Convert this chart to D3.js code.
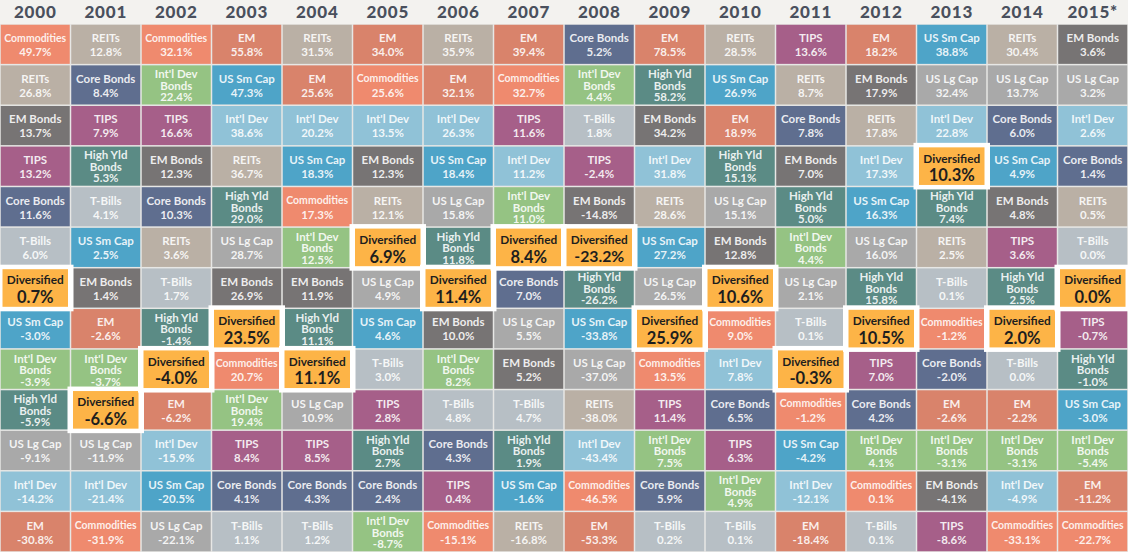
<!DOCTYPE html>
<html><head><meta charset="utf-8">
<script src="https://cdn.jsdelivr.net/npm/d3@7/dist/d3.min.js"></script>
<style>
html,body{margin:0;padding:0;background:#f3f2ef;}
svg{display:block;}
</style></head>
<body>
<svg id="chart" width="1128" height="552"></svg>
<script>
const years = ["2000","2001","2002","2003","2004","2005","2006","2007","2008","2009","2010","2011","2012","2013","2014","2015*"];
const categories = ["Commodities","REITs","EM","Core Bonds","Int'l Dev Bonds","US Sm Cap","Int'l Dev","TIPS","EM Bonds","High Yld Bonds","T-Bills","US Lg Cap","Diversified"];
const categoryColors = ["#ef8a6e","#bab0a5","#d9836b","#5f6e8f","#95c383","#4ea4c8","#90c2d7","#a65f89","#777474","#5b8b85","#b7bfc5","#a9a9a9","#fdb447"];

// ranked from best (top) to worst (bottom) per year
const names2000 = ["Commodities","REITs","EM Bonds","TIPS","Core Bonds","T-Bills","Diversified","US Sm Cap","Int'l Dev Bonds","High Yld Bonds","US Lg Cap","Int'l Dev","EM"];
const returns2000 = [49.7,26.8,13.7,13.2,11.6,6.0,0.7,-3.0,-3.9,-5.9,-9.1,-14.2,-30.8];
const names2001 = ["REITs","Core Bonds","TIPS","High Yld Bonds","T-Bills","US Sm Cap","EM Bonds","EM","Int'l Dev Bonds","Diversified","US Lg Cap","Int'l Dev","Commodities"];
const returns2001 = [12.8,8.4,7.9,5.3,4.1,2.5,1.4,-2.6,-3.7,-6.6,-11.9,-21.4,-31.9];
const names2002 = ["Commodities","Int'l Dev Bonds","TIPS","EM Bonds","Core Bonds","REITs","T-Bills","High Yld Bonds","Diversified","EM","Int'l Dev","US Sm Cap","US Lg Cap"];
const returns2002 = [32.1,22.4,16.6,12.3,10.3,3.6,1.7,-1.4,-4.0,-6.2,-15.9,-20.5,-22.1];
const names2003 = ["EM","US Sm Cap","Int'l Dev","REITs","High Yld Bonds","US Lg Cap","EM Bonds","Diversified","Commodities","Int'l Dev Bonds","TIPS","Core Bonds","T-Bills"];
const returns2003 = [55.8,47.3,38.6,36.7,29.0,28.7,26.9,23.5,20.7,19.4,8.4,4.1,1.1];
const names2004 = ["REITs","EM","Int'l Dev","US Sm Cap","Commodities","Int'l Dev Bonds","EM Bonds","High Yld Bonds","Diversified","US Lg Cap","TIPS","Core Bonds","T-Bills"];
const returns2004 = [31.5,25.6,20.2,18.3,17.3,12.5,11.9,11.1,11.1,10.9,8.5,4.3,1.2];
const names2005 = ["EM","Commodities","Int'l Dev","EM Bonds","REITs","Diversified","US Lg Cap","US Sm Cap","T-Bills","TIPS","High Yld Bonds","Core Bonds","Int'l Dev Bonds"];
const returns2005 = [34.0,25.6,13.5,12.3,12.1,6.9,4.9,4.6,3.0,2.8,2.7,2.4,-8.7];
const names2006 = ["REITs","EM","Int'l Dev","US Sm Cap","US Lg Cap","High Yld Bonds","Diversified","EM Bonds","Int'l Dev Bonds","T-Bills","Core Bonds","TIPS","Commodities"];
const returns2006 = [35.9,32.1,26.3,18.4,15.8,11.8,11.4,10.0,8.2,4.8,4.3,0.4,-15.1];
const names2007 = ["EM","Commodities","TIPS","Int'l Dev","Int'l Dev Bonds","Diversified","Core Bonds","US Lg Cap","EM Bonds","T-Bills","High Yld Bonds","US Sm Cap","REITs"];
const returns2007 = [39.4,32.7,11.6,11.2,11.0,8.4,7.0,5.5,5.2,4.7,1.9,-1.6,-16.8];
const names2008 = ["Core Bonds","Int'l Dev Bonds","T-Bills","TIPS","EM Bonds","Diversified","High Yld Bonds","US Sm Cap","US Lg Cap","REITs","Int'l Dev","Commodities","EM"];
const returns2008 = [5.2,4.4,1.8,-2.4,-14.8,-23.2,-26.2,-33.8,-37.0,-38.0,-43.4,-46.5,-53.3];
const names2009 = ["EM","High Yld Bonds","EM Bonds","Int'l Dev","REITs","US Sm Cap","US Lg Cap","Diversified","Commodities","TIPS","Int'l Dev Bonds","Core Bonds","T-Bills"];
const returns2009 = [78.5,58.2,34.2,31.8,28.6,27.2,26.5,25.9,13.5,11.4,7.5,5.9,0.2];
const names2010 = ["REITs","US Sm Cap","EM","High Yld Bonds","US Lg Cap","EM Bonds","Diversified","Commodities","Int'l Dev","Core Bonds","TIPS","Int'l Dev Bonds","T-Bills"];
const returns2010 = [28.5,26.9,18.9,15.1,15.1,12.8,10.6,9.0,7.8,6.5,6.3,4.9,0.1];
const names2011 = ["TIPS","REITs","Core Bonds","EM Bonds","High Yld Bonds","Int'l Dev Bonds","US Lg Cap","T-Bills","Diversified","Commodities","US Sm Cap","Int'l Dev","EM"];
const returns2011 = [13.6,8.7,7.8,7.0,5.0,4.4,2.1,0.1,-0.3,-1.2,-4.2,-12.1,-18.4];
const names2012 = ["EM","EM Bonds","REITs","Int'l Dev","US Sm Cap","US Lg Cap","High Yld Bonds","Diversified","TIPS","Core Bonds","Int'l Dev Bonds","Commodities","T-Bills"];
const returns2012 = [18.2,17.9,17.8,17.3,16.3,16.0,15.8,10.5,7.0,4.2,4.1,0.1,0.1];
const names2013 = ["US Sm Cap","US Lg Cap","Int'l Dev","Diversified","High Yld Bonds","REITs","T-Bills","Commodities","Core Bonds","EM","Int'l Dev Bonds","EM Bonds","TIPS"];
const returns2013 = [38.8,32.4,22.8,10.3,7.4,2.5,0.1,-1.2,-2.0,-2.6,-3.1,-4.1,-8.6];
const names2014 = ["REITs","US Lg Cap","Core Bonds","US Sm Cap","EM Bonds","TIPS","High Yld Bonds","Diversified","T-Bills","EM","Int'l Dev Bonds","Int'l Dev","Commodities"];
const returns2014 = [30.4,13.7,6.0,4.9,4.8,3.6,2.5,2.0,0.0,-2.2,-3.1,-4.9,-33.1];
const names2015 = ["EM Bonds","US Lg Cap","Int'l Dev","Core Bonds","REITs","T-Bills","Diversified","TIPS","High Yld Bonds","US Sm Cap","Int'l Dev Bonds","EM","Commodities"];
const returns2015 = [3.6,3.2,2.6,1.4,0.5,0.0,0.0,-0.7,-1.0,-3.0,-5.4,-11.2,-22.7];

const namesByYear = [names2000,names2001,names2002,names2003,names2004,names2005,names2006,names2007,names2008,names2009,names2010,names2011,names2012,names2013,names2014,names2015];
const returnsByYear = [returns2000,returns2001,returns2002,returns2003,returns2004,returns2005,returns2006,returns2007,returns2008,returns2009,returns2010,returns2011,returns2012,returns2013,returns2014,returns2015];

const W = 1128, H = 552, gridTop = 24;
const svg = d3.select("#chart");
const x = d3.scaleBand().domain(years).range([0, W]);
const y = d3.scaleBand().domain(d3.range(13)).range([gridTop, H]);
const color = d3.scaleOrdinal().domain(categories).range(categoryColors);
const fmt = v => v.toFixed(1) + "%";
const FONT = "Lato, 'Open Sans', sans-serif";

function fitSize(sel, maxW, baseSize) {
  sel.each(function(){
    const w = this.getBBox().width;
    if (w > maxW) d3.select(this).attr("font-size", (baseSize * maxW / w).toFixed(2) + "px");
  });
}

const cells = [];
years.forEach((yr, i) => {
  namesByYear[i].forEach((n, r) => cells.push({year: yr, rank: r, name: n, value: returnsByYear[i][r]}));
});

svg.append("rect").attr("x",0).attr("y",gridTop).attr("width",W).attr("height",H-gridTop).attr("fill","#e7e7e5");

// header
svg.append("g").selectAll("text").data(years).join("text")
  .attr("x", d => x(d) + x.bandwidth()/2)
  .attr("y", 18)
  .attr("text-anchor","middle")
  .attr("font-family",FONT)
  .attr("font-weight","900")
  .attr("font-size","17px")
  .attr("letter-spacing","0.8")
  .attr("fill","#4a505d")
  .text(d => d);

const regular = cells.filter(d => d.name !== "Diversified");
const divs = cells.filter(d => d.name === "Diversified");

const cg = svg.append("g").selectAll("g.cell").data(regular).join("g").attr("class","cell")
  .attr("transform", d => `translate(${x(d.year)},${y(d.rank)})`);
cg.append("rect")
  .attr("x",0.75).attr("y",0.75)
  .attr("width", x.bandwidth()-1.5).attr("height", y.bandwidth()-1.5)
  .attr("fill", d => color(d.name));
cg.each(function(d){
  const sel = d3.select(this);
  const bw = x.bandwidth();
  let lines;
  if (d.name === "High Yld Bonds") lines = ["High Yld","Bonds",fmt(d.value)];
  else if (d.name === "Int'l Dev Bonds") lines = ["Int'l Dev","Bonds",fmt(d.value)];
  else lines = [d.name, fmt(d.value)];
  const offs = lines.length === 3 ? [9.5, 21, 32.5] : [14, 28];
  lines.forEach((t, k) => {
    const tx = sel.append("text")
      .attr("x", bw/2).attr("y", offs[k])
      .attr("dy","0.36em")
      .attr("text-anchor","middle")
      .attr("font-family",FONT)
      .attr("font-weight","700")
      .attr("font-size","11.5px")
      .attr("fill","rgba(255,255,255,0.88)")
      .text(t);
    fitSize(tx, 62, 11.5);
  });
});

const dg = svg.append("g").selectAll("g.div").data(divs).join("g").attr("class","div")
  .attr("transform", d => `translate(${x(d.year)},${y(d.rank)})`);
dg.append("rect")
  .attr("x",-3).attr("y",-3)
  .attr("width", x.bandwidth()+6).attr("height", y.bandwidth()+6)
  .attr("fill","#ffffff");
dg.append("rect")
  .attr("x",2.5).attr("y",1.5)
  .attr("width", x.bandwidth()-5).attr("height", y.bandwidth()-3)
  .attr("fill", d => color(d.name));
const dn = dg.append("text")
  .attr("x", x.bandwidth()/2).attr("y", 12.5).attr("dy","0.36em")
  .attr("text-anchor","middle")
  .attr("font-family",FONT)
  .attr("font-weight","700").attr("font-size","13px")
  .attr("fill","#1e1e1e")
  .text(d => d.name);
fitSize(dn, 57, 13);
const dv = dg.append("text")
  .attr("x", x.bandwidth()/2).attr("y", 29.5).attr("dy","0.36em")
  .attr("text-anchor","middle")
  .attr("font-family",FONT)
  .attr("font-weight","700").attr("font-size","16.5px")
  .attr("fill","#1e1e1e")
  .text(d => fmt(d.value));
fitSize(dv, 50, 16.5);
</script>
</body></html>
